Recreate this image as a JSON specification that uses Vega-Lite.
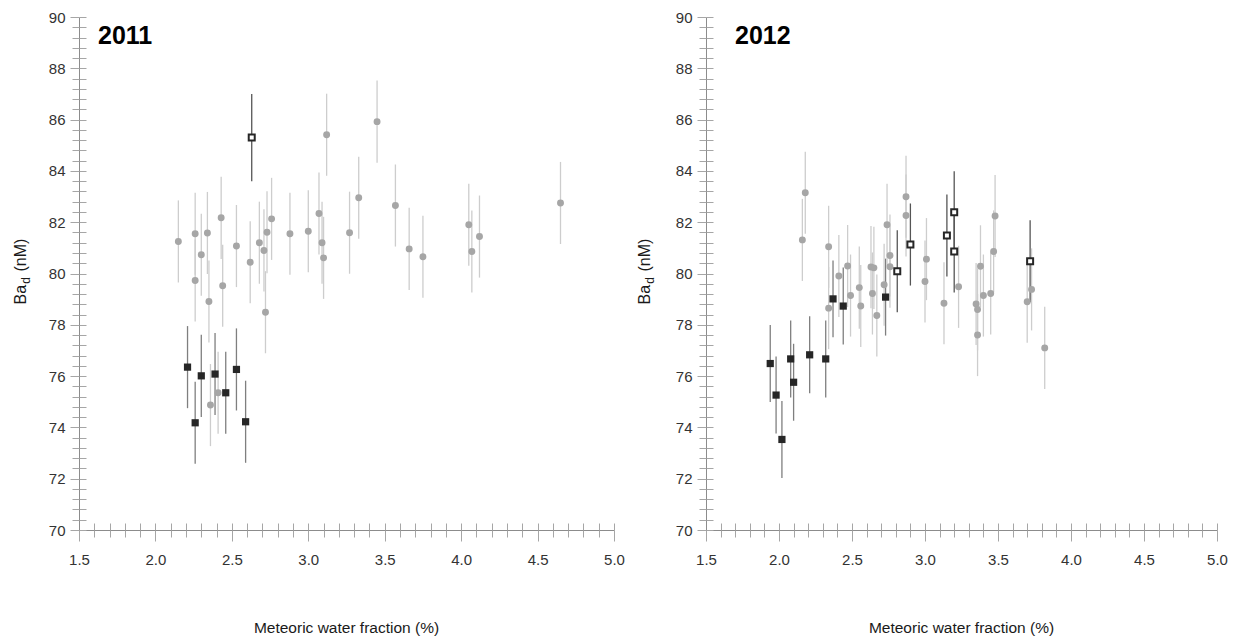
{
  "$schema": "https://vega.github.io/schema/vega-lite/v6.json",
  "padding": {"left": 12, "top": 10, "right": 0, "bottom": 0},
  "background": "white",
  "bounds": "flush",
  "spacing": 92,
  "config": {
    "view": {"stroke": null},
    "font": "Liberation Sans",
    "axis": {"grid": false, "labelFont": "Liberation Sans", "titleFont": "Liberation Sans"}
  },
  "data": {"values": [
    {"year": 2011, "group": "filled", "x": 2.21, "y": 76.35, "err": 1.6},
    {"year": 2011, "group": "filled", "x": 2.26, "y": 74.18, "err": 1.6},
    {"year": 2011, "group": "filled", "x": 2.30, "y": 76.01, "err": 1.6},
    {"year": 2011, "group": "filled", "x": 2.39, "y": 76.08, "err": 1.6},
    {"year": 2011, "group": "filled", "x": 2.46, "y": 75.35, "err": 1.6},
    {"year": 2011, "group": "filled", "x": 2.53, "y": 76.26, "err": 1.6},
    {"year": 2011, "group": "filled", "x": 2.59, "y": 74.22, "err": 1.6},
    {"year": 2011, "group": "open", "x": 2.63, "y": 85.30, "err": 1.7},
    {"year": 2011, "group": "circle", "x": 2.15, "y": 81.25, "err": 1.6},
    {"year": 2011, "group": "circle", "x": 2.26, "y": 81.55, "err": 1.6},
    {"year": 2011, "group": "circle", "x": 2.26, "y": 79.73, "err": 1.6},
    {"year": 2011, "group": "circle", "x": 2.30, "y": 80.73, "err": 1.6},
    {"year": 2011, "group": "circle", "x": 2.34, "y": 81.58, "err": 1.6},
    {"year": 2011, "group": "circle", "x": 2.35, "y": 78.91, "err": 1.6},
    {"year": 2011, "group": "circle", "x": 2.43, "y": 82.17, "err": 1.6},
    {"year": 2011, "group": "circle", "x": 2.44, "y": 79.52, "err": 1.6},
    {"year": 2011, "group": "circle", "x": 2.53, "y": 81.07, "err": 1.6},
    {"year": 2011, "group": "circle", "x": 2.62, "y": 80.44, "err": 1.6},
    {"year": 2011, "group": "circle", "x": 2.68, "y": 81.20, "err": 1.6},
    {"year": 2011, "group": "circle", "x": 2.71, "y": 80.90, "err": 1.6},
    {"year": 2011, "group": "circle", "x": 2.73, "y": 81.61, "err": 1.6},
    {"year": 2011, "group": "circle", "x": 2.72, "y": 78.49, "err": 1.6},
    {"year": 2011, "group": "circle", "x": 2.76, "y": 82.13, "err": 1.6},
    {"year": 2011, "group": "circle", "x": 2.88, "y": 81.55, "err": 1.6},
    {"year": 2011, "group": "circle", "x": 3.00, "y": 81.65, "err": 1.6},
    {"year": 2011, "group": "circle", "x": 3.07, "y": 82.34, "err": 1.6},
    {"year": 2011, "group": "circle", "x": 3.09, "y": 81.20, "err": 1.6},
    {"year": 2011, "group": "circle", "x": 3.10, "y": 80.61, "err": 1.6},
    {"year": 2011, "group": "circle", "x": 3.12, "y": 85.41, "err": 1.6},
    {"year": 2011, "group": "circle", "x": 3.27, "y": 81.59, "err": 1.6},
    {"year": 2011, "group": "circle", "x": 3.33, "y": 82.95, "err": 1.6},
    {"year": 2011, "group": "circle", "x": 3.45, "y": 85.92, "err": 1.6},
    {"year": 2011, "group": "circle", "x": 3.57, "y": 82.65, "err": 1.6},
    {"year": 2011, "group": "circle", "x": 3.66, "y": 80.96, "err": 1.6},
    {"year": 2011, "group": "circle", "x": 3.75, "y": 80.65, "err": 1.6},
    {"year": 2011, "group": "circle", "x": 4.05, "y": 81.90, "err": 1.6},
    {"year": 2011, "group": "circle", "x": 4.07, "y": 80.86, "err": 1.6},
    {"year": 2011, "group": "circle", "x": 4.12, "y": 81.44, "err": 1.6},
    {"year": 2011, "group": "circle", "x": 4.65, "y": 82.75, "err": 1.6},
    {"year": 2011, "group": "circle", "x": 2.41, "y": 75.35, "err": 1.6},
    {"year": 2011, "group": "circle", "x": 2.36, "y": 74.87, "err": 1.6},
    {"year": 2012, "group": "filled", "x": 1.94, "y": 76.49, "err": 1.5},
    {"year": 2012, "group": "filled", "x": 1.98, "y": 75.26, "err": 1.5},
    {"year": 2012, "group": "filled", "x": 2.02, "y": 73.53, "err": 1.5},
    {"year": 2012, "group": "filled", "x": 2.08, "y": 76.67, "err": 1.5},
    {"year": 2012, "group": "filled", "x": 2.10, "y": 75.76, "err": 1.5},
    {"year": 2012, "group": "filled", "x": 2.21, "y": 76.83, "err": 1.5},
    {"year": 2012, "group": "filled", "x": 2.32, "y": 76.67, "err": 1.5},
    {"year": 2012, "group": "filled", "x": 2.37, "y": 79.01, "err": 1.5},
    {"year": 2012, "group": "filled", "x": 2.44, "y": 78.73, "err": 1.5},
    {"year": 2012, "group": "filled", "x": 2.73, "y": 79.08, "err": 1.5},
    {"year": 2012, "group": "open", "x": 2.81, "y": 80.09, "err": 1.6},
    {"year": 2012, "group": "open", "x": 2.90, "y": 81.13, "err": 1.6},
    {"year": 2012, "group": "open", "x": 3.15, "y": 81.48, "err": 1.6},
    {"year": 2012, "group": "open", "x": 3.20, "y": 82.39, "err": 1.6},
    {"year": 2012, "group": "open", "x": 3.20, "y": 80.86, "err": 1.6},
    {"year": 2012, "group": "open", "x": 3.72, "y": 80.48, "err": 1.6},
    {"year": 2012, "group": "circle", "x": 2.16, "y": 81.31, "err": 1.6},
    {"year": 2012, "group": "circle", "x": 2.18, "y": 83.15, "err": 1.6},
    {"year": 2012, "group": "circle", "x": 2.34, "y": 81.04, "err": 1.6},
    {"year": 2012, "group": "circle", "x": 2.34, "y": 78.65, "err": 1.6},
    {"year": 2012, "group": "circle", "x": 2.41, "y": 79.90, "err": 1.6},
    {"year": 2012, "group": "circle", "x": 2.47, "y": 80.29, "err": 1.6},
    {"year": 2012, "group": "circle", "x": 2.49, "y": 79.14, "err": 1.6},
    {"year": 2012, "group": "circle", "x": 2.55, "y": 79.45, "err": 1.6},
    {"year": 2012, "group": "circle", "x": 2.56, "y": 78.73, "err": 1.6},
    {"year": 2012, "group": "circle", "x": 2.63, "y": 80.25, "err": 1.6},
    {"year": 2012, "group": "circle", "x": 2.65, "y": 80.22, "err": 1.6},
    {"year": 2012, "group": "circle", "x": 2.64, "y": 79.22, "err": 1.6},
    {"year": 2012, "group": "circle", "x": 2.67, "y": 78.36, "err": 1.6},
    {"year": 2012, "group": "circle", "x": 2.72, "y": 79.56, "err": 1.6},
    {"year": 2012, "group": "circle", "x": 2.74, "y": 81.90, "err": 1.6},
    {"year": 2012, "group": "circle", "x": 2.76, "y": 80.70, "err": 1.6},
    {"year": 2012, "group": "circle", "x": 2.76, "y": 80.26, "err": 1.6},
    {"year": 2012, "group": "circle", "x": 2.87, "y": 82.99, "err": 1.6},
    {"year": 2012, "group": "circle", "x": 2.87, "y": 82.26, "err": 1.6},
    {"year": 2012, "group": "circle", "x": 3.00, "y": 79.69, "err": 1.6},
    {"year": 2012, "group": "circle", "x": 3.01, "y": 80.56, "err": 1.6},
    {"year": 2012, "group": "circle", "x": 3.13, "y": 78.84, "err": 1.6},
    {"year": 2012, "group": "circle", "x": 3.23, "y": 79.48, "err": 1.6},
    {"year": 2012, "group": "circle", "x": 3.35, "y": 78.81, "err": 1.6},
    {"year": 2012, "group": "circle", "x": 3.36, "y": 78.60, "err": 1.6},
    {"year": 2012, "group": "circle", "x": 3.36, "y": 77.60, "err": 1.6},
    {"year": 2012, "group": "circle", "x": 3.38, "y": 80.28, "err": 1.6},
    {"year": 2012, "group": "circle", "x": 3.40, "y": 79.14, "err": 1.6},
    {"year": 2012, "group": "circle", "x": 3.45, "y": 79.22, "err": 1.6},
    {"year": 2012, "group": "circle", "x": 3.47, "y": 80.86, "err": 1.6},
    {"year": 2012, "group": "circle", "x": 3.48, "y": 82.24, "err": 1.6},
    {"year": 2012, "group": "circle", "x": 3.70, "y": 78.90, "err": 1.6},
    {"year": 2012, "group": "circle", "x": 3.73, "y": 79.38, "err": 1.6},
    {"year": 2012, "group": "circle", "x": 3.82, "y": 77.10, "err": 1.6}
  ]},
  "hconcat": [
    {
      "width": 535, "height": 513,
      "title": {"text": "2011", "anchor": "start", "frame": "group", "orient": "top", "offset": -59, "dx": 19, "baseline": "alphabetic", "font": "Liberation Sans", "fontSize": 25, "fontWeight": "bold", "color": "#000000"},
      "transform": [{"filter": "datum.year == 2011"}],
      "resolve": {"axis": {"x": "independent", "y": "independent"}},
      "layer": [
        {
          "mark": {"type": "errorbar", "thickness": 1.3},
          "encoding": {
            "x": {"field": "x", "type": "quantitative", "scale": {"domain": [1.5, 5.0], "nice": false, "zero": false},
              "axis": {"orient": "bottom", "values": [1.5,1.6,1.7,1.8,1.9,2.0,2.1,2.2,2.3,2.4,2.5,2.6,2.7,2.8,2.9,3.0,3.1,3.2,3.3,3.4,3.5,3.6,3.7,3.8,3.9,4.0,4.1,4.2,4.3,4.4,4.5,4.6,4.7,4.8,4.9,5.0],
                "labelExpr": "abs(datum.value*2-round(datum.value*2))<0.001 ? format(datum.value,'.1f') : ''",
                "labelOverlap": false, "labelFlush": false, "labelFontSize": 15, "labelColor": "#333333", "labelPadding": 11,
                "tickSize": {"condition": {"test": "abs(datum.value*2-round(datum.value*2))<0.001", "value": 11}, "value": 7},
                "tickColor": "#a6a6a6", "domainColor": "#8c8c8c",
                "title": "Meteoric water fraction (%)", "titleFontSize": 15.5, "titleFontWeight": "normal", "titleColor": "#1a1a1a",
                "titleX": 267, "titleY": 102, "titleBaseline": "alphabetic", "titleAlign": "center"}},
            "y": {"field": "y", "type": "quantitative", "scale": {"domain": [70, 90], "nice": false, "zero": false},
              "axis": {"orient": "left", "values": [70,70.4,70.8,71.2,71.6,72,72.4,72.8,73.2,73.6,74,74.4,74.8,75.2,75.6,76,76.4,76.8,77.2,77.6,78,78.4,78.8,79.2,79.6,80,80.4,80.8,81.2,81.6,82,82.4,82.8,83.2,83.6,84,84.4,84.8,85.2,85.6,86,86.4,86.8,87.2,87.6,88,88.4,88.8,89.2,89.6,90],
                "labelExpr": "abs(datum.value/2-round(datum.value/2))<0.001 ? format(datum.value,'d') : ''",
                "labelOverlap": false, "labelFlush": false, "labelFontSize": 15, "labelColor": "#333333", "labelPadding": 5,
                "tickSize": {"condition": {"test": "abs(datum.value/2-round(datum.value/2))<0.001", "value": 9}, "value": 7},
                "tickColor": "#a6a6a6", "domainColor": "#8c8c8c",
                "title": "Ba\u00a0\u00a0\u00a0(nM)", "titleFontSize": 16, "titleFontWeight": "normal", "titleColor": "#1a1a1a",
                "titleAngle": 270, "titleX": -54, "titleY": 254, "titleBaseline": "alphabetic", "titleAlign": "center"}},
            "yError": {"field": "err"},
            "color": {"field": "group", "type": "nominal", "scale": {"domain": ["circle", "filled", "open"], "range": ["#cdcdcd", "#7f7f7f", "#555555"]}, "legend": null}
          }
        },
        {
          "transform": [{"filter": "datum.group == 'circle'"}],
          "mark": {"type": "point", "shape": "circle", "filled": true, "size": 48, "color": "#a6a6a6", "opacity": 1},
          "encoding": {
            "x": {"field": "x", "type": "quantitative",
              "axis": {"orient": "bottom", "values": [1.5,1.6,1.7,1.8,1.9,2.0,2.1,2.2,2.3,2.4,2.5,2.6,2.7,2.8,2.9,3.0,3.1,3.2,3.3,3.4,3.5,3.6,3.7,3.8,3.9,4.0,4.1,4.2,4.3,4.4,4.5,4.6,4.7,4.8,4.9,5.0], "labels": false, "domain": false, "title": null, "tickSize": -7, "tickColor": "#a6a6a6"}},
            "y": {"field": "y", "type": "quantitative",
              "axis": {"orient": "left", "values": [70,70.4,70.8,71.2,71.6,72,72.4,72.8,73.2,73.6,74,74.4,74.8,75.2,75.6,76,76.4,76.8,77.2,77.6,78,78.4,78.8,79.2,79.6,80,80.4,80.8,81.2,81.6,82,82.4,82.8,83.2,83.6,84,84.4,84.8,85.2,85.6,86,86.4,86.8,87.2,87.6,88,88.4,88.8,89.2,89.6,90], "labels": false, "domain": false, "tickSize": -7, "tickColor": "#a6a6a6",
                "title": "d", "titleFontSize": 12, "titleFontWeight": "normal", "titleColor": "#1a1a1a", "titleAngle": 270, "titleX": -50, "titleY": 263, "titleBaseline": "alphabetic", "titleAlign": "center"}}
          }
        },
        {
          "transform": [{"filter": "datum.group == 'filled'"}],
          "mark": {"type": "point", "shape": "square", "filled": true, "size": 52, "color": "#262626", "opacity": 1},
          "encoding": {"x": {"field": "x", "type": "quantitative", "axis": null}, "y": {"field": "y", "type": "quantitative", "axis": null}}
        },
        {
          "transform": [{"filter": "datum.group == 'open'"}],
          "mark": {"type": "point", "shape": "square", "filled": false, "fill": "white", "size": 36, "stroke": "#262626", "strokeWidth": 2, "opacity": 1},
          "encoding": {"x": {"field": "x", "type": "quantitative", "axis": null}, "y": {"field": "y", "type": "quantitative", "axis": null}}
        }
      ]
    },
    {
      "width": 511, "height": 513,
      "title": {"text": "2012", "anchor": "start", "frame": "group", "orient": "top", "offset": -59, "dx": 29, "baseline": "alphabetic", "font": "Liberation Sans", "fontSize": 25, "fontWeight": "bold", "color": "#000000"},
      "transform": [{"filter": "datum.year == 2012"}],
      "resolve": {"axis": {"x": "independent", "y": "independent"}},
      "layer": [
        {
          "mark": {"type": "errorbar", "thickness": 1.3},
          "encoding": {
            "x": {"field": "x", "type": "quantitative", "scale": {"domain": [1.5, 5.0], "nice": false, "zero": false},
              "axis": {"orient": "bottom", "values": [1.5,1.6,1.7,1.8,1.9,2.0,2.1,2.2,2.3,2.4,2.5,2.6,2.7,2.8,2.9,3.0,3.1,3.2,3.3,3.4,3.5,3.6,3.7,3.8,3.9,4.0,4.1,4.2,4.3,4.4,4.5,4.6,4.7,4.8,4.9,5.0],
                "labelExpr": "abs(datum.value*2-round(datum.value*2))<0.001 ? format(datum.value,'.1f') : ''",
                "labelOverlap": false, "labelFlush": false, "labelFontSize": 15, "labelColor": "#333333", "labelPadding": 11,
                "tickSize": {"condition": {"test": "abs(datum.value*2-round(datum.value*2))<0.001", "value": 11}, "value": 7},
                "tickColor": "#a6a6a6", "domainColor": "#8c8c8c",
                "title": "Meteoric water fraction (%)", "titleFontSize": 15.5, "titleFontWeight": "normal", "titleColor": "#1a1a1a",
                "titleX": 255, "titleY": 102, "titleBaseline": "alphabetic", "titleAlign": "center"}},
            "y": {"field": "y", "type": "quantitative", "scale": {"domain": [70, 90], "nice": false, "zero": false},
              "axis": {"orient": "left", "values": [70,70.4,70.8,71.2,71.6,72,72.4,72.8,73.2,73.6,74,74.4,74.8,75.2,75.6,76,76.4,76.8,77.2,77.6,78,78.4,78.8,79.2,79.6,80,80.4,80.8,81.2,81.6,82,82.4,82.8,83.2,83.6,84,84.4,84.8,85.2,85.6,86,86.4,86.8,87.2,87.6,88,88.4,88.8,89.2,89.6,90],
                "labelExpr": "abs(datum.value/2-round(datum.value/2))<0.001 ? format(datum.value,'d') : ''",
                "labelOverlap": false, "labelFlush": false, "labelFontSize": 15, "labelColor": "#333333", "labelPadding": 5,
                "tickSize": {"condition": {"test": "abs(datum.value/2-round(datum.value/2))<0.001", "value": 9}, "value": 7},
                "tickColor": "#a6a6a6", "domainColor": "#8c8c8c",
                "title": "Ba\u00a0\u00a0\u00a0(nM)", "titleFontSize": 16, "titleFontWeight": "normal", "titleColor": "#1a1a1a",
                "titleAngle": 270, "titleX": -57, "titleY": 254, "titleBaseline": "alphabetic", "titleAlign": "center"}},
            "yError": {"field": "err"},
            "color": {"field": "group", "type": "nominal", "scale": {"domain": ["circle", "filled", "open"], "range": ["#cdcdcd", "#7f7f7f", "#555555"]}, "legend": null}
          }
        },
        {
          "transform": [{"filter": "datum.group == 'circle'"}],
          "mark": {"type": "point", "shape": "circle", "filled": true, "size": 48, "color": "#a6a6a6", "opacity": 1},
          "encoding": {
            "x": {"field": "x", "type": "quantitative",
              "axis": {"orient": "bottom", "values": [1.5,1.6,1.7,1.8,1.9,2.0,2.1,2.2,2.3,2.4,2.5,2.6,2.7,2.8,2.9,3.0,3.1,3.2,3.3,3.4,3.5,3.6,3.7,3.8,3.9,4.0,4.1,4.2,4.3,4.4,4.5,4.6,4.7,4.8,4.9,5.0], "labels": false, "domain": false, "title": null, "tickSize": -7, "tickColor": "#a6a6a6"}},
            "y": {"field": "y", "type": "quantitative",
              "axis": {"orient": "left", "values": [70,70.4,70.8,71.2,71.6,72,72.4,72.8,73.2,73.6,74,74.4,74.8,75.2,75.6,76,76.4,76.8,77.2,77.6,78,78.4,78.8,79.2,79.6,80,80.4,80.8,81.2,81.6,82,82.4,82.8,83.2,83.6,84,84.4,84.8,85.2,85.6,86,86.4,86.8,87.2,87.6,88,88.4,88.8,89.2,89.6,90], "labels": false, "domain": false, "tickSize": -7, "tickColor": "#a6a6a6",
                "title": "d", "titleFontSize": 12, "titleFontWeight": "normal", "titleColor": "#1a1a1a", "titleAngle": 270, "titleX": -53, "titleY": 263, "titleBaseline": "alphabetic", "titleAlign": "center"}}
          }
        },
        {
          "transform": [{"filter": "datum.group == 'filled'"}],
          "mark": {"type": "point", "shape": "square", "filled": true, "size": 52, "color": "#262626", "opacity": 1},
          "encoding": {"x": {"field": "x", "type": "quantitative", "axis": null}, "y": {"field": "y", "type": "quantitative", "axis": null}}
        },
        {
          "transform": [{"filter": "datum.group == 'open'"}],
          "mark": {"type": "point", "shape": "square", "filled": false, "fill": "white", "size": 36, "stroke": "#262626", "strokeWidth": 2, "opacity": 1},
          "encoding": {"x": {"field": "x", "type": "quantitative", "axis": null}, "y": {"field": "y", "type": "quantitative", "axis": null}}
        }
      ]
    }
  ]
}
